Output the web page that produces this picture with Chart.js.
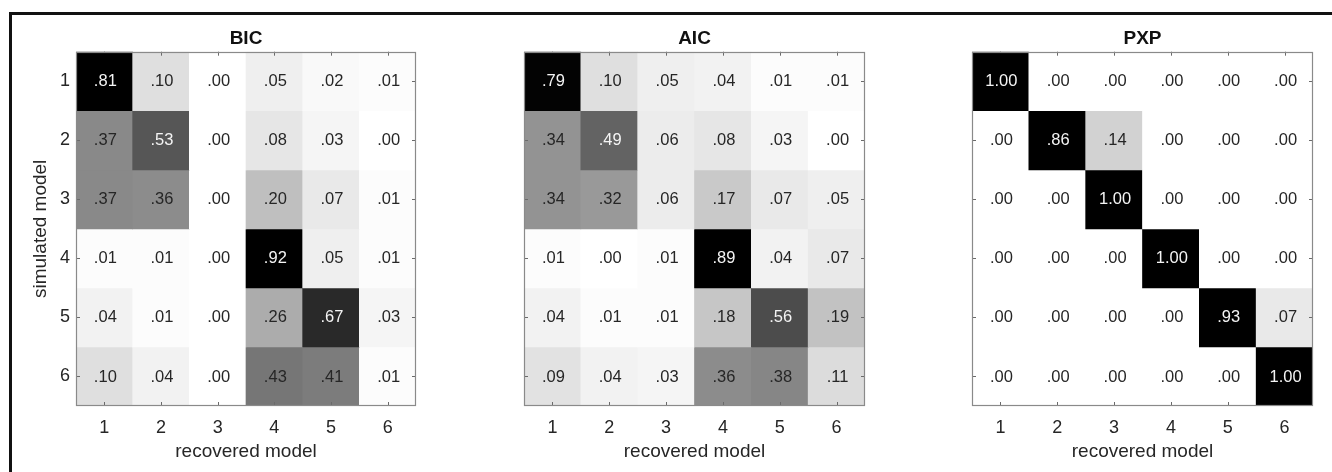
<!DOCTYPE html>
<html>
<head>
<meta charset="utf-8">
<script src="https://cdn.jsdelivr.net/npm/chart.js@4.4.1/dist/chart.umd.min.js"></script>
<style>
  html, body { margin: 0; padding: 0; background: #fff; }
  body { width: 1332px; height: 472px; position: relative; overflow: hidden; }
  .panel { position: absolute; top: 0; }
  .frame {
    position: absolute; left: 9px; top: 12px; width: 1400px; height: 500px;
    border-top: 3px solid #111; border-left: 3px solid #111; pointer-events: none; z-index: 5;
  }
</style>
</head>
<body>
<div class="frame"></div>
<canvas id="bic" class="panel"></canvas>
<canvas id="aic" class="panel"></canvas>
<canvas id="pxp" class="panel"></canvas>
<script>
// Model labels (shared by both axes)
const modelLabels = ['1', '2', '3', '4', '5', '6'];
const panelTitles = ['BIC', 'AIC', 'PXP'];
const xAxisTitle = 'recovered model';
const yAxisTitle = 'simulated model';

// Confusion matrices: rows = simulated model, columns = recovered model
const bicValues = [
  [0.81, 0.10, 0.00, 0.05, 0.02, 0.01],
  [0.37, 0.53, 0.00, 0.08, 0.03, 0.00],
  [0.37, 0.36, 0.00, 0.20, 0.07, 0.01],
  [0.01, 0.01, 0.00, 0.92, 0.05, 0.01],
  [0.04, 0.01, 0.00, 0.26, 0.67, 0.03],
  [0.10, 0.04, 0.00, 0.43, 0.41, 0.01]
];
const aicValues = [
  [0.79, 0.10, 0.05, 0.04, 0.01, 0.01],
  [0.34, 0.49, 0.06, 0.08, 0.03, 0.00],
  [0.34, 0.32, 0.06, 0.17, 0.07, 0.05],
  [0.01, 0.00, 0.01, 0.89, 0.04, 0.07],
  [0.04, 0.01, 0.01, 0.18, 0.56, 0.19],
  [0.09, 0.04, 0.03, 0.36, 0.38, 0.11]
];
const pxpValues = [
  [1.00, 0.00, 0.00, 0.00, 0.00, 0.00],
  [0.00, 0.86, 0.14, 0.00, 0.00, 0.00],
  [0.00, 0.00, 1.00, 0.00, 0.00, 0.00],
  [0.00, 0.00, 0.00, 1.00, 0.00, 0.00],
  [0.00, 0.00, 0.00, 0.00, 0.93, 0.07],
  [0.00, 0.00, 0.00, 0.00, 0.00, 1.00]
];

Chart.defaults.font.family = "'Liberation Sans', Arial, Helvetica, sans-serif";
Chart.defaults.color = '#262626';

const FONT = "'Liberation Sans', Arial, Helvetica, sans-serif";
const AXIS_W = 70;     // space left of each plot area (tick labels + axis title)
const RIGHT_PAD = 10;
const X_AXIS_H = 66;   // space under each plot area

// Inverted grey map, saturating at 0.8
function cellGrey(v) {
  const g = Math.round(255 * (1 - Math.min(v / 0.8, 1)));
  return `rgb(${g},${g},${g})`;
}
function cellText(v) {
  const s = v.toFixed(2);
  return v >= 1 ? s : s.replace(/^0/, '');
}

// Cell annotations, frame and inward ticks
const heatDecor = {
  id: 'heatDecor',
  afterDatasetsDraw(chart) {
    const { ctx, chartArea: a } = chart;
    const matrix = chart.options.plugins.heatDecor.matrix;
    ctx.save();
    ctx.font = `16.5px ${FONT}`;
    ctx.textAlign = 'center';
    ctx.textBaseline = 'middle';
    chart.data.datasets.forEach((ds, r) => {
      chart.getDatasetMeta(r).data.forEach((el, c) => {
        const v = matrix[r][c];
        ctx.fillStyle = v >= 0.45 ? '#f4f4f4' : '#262626';
        ctx.fillText(cellText(v), el.x + 1, (el.y + el.base) / 2 + 0.5);
      });
    });

    // tick marks pointing inward, blended so they vanish on dark cells
    const xs = chart.scales.x, ys = chart.scales.y;
    const tl = 4;
    ctx.globalCompositeOperation = 'darken';
    ctx.strokeStyle = '#6a6a6a';
    ctx.lineWidth = 1;
    ctx.beginPath();
    modelLabels.forEach((_, i) => {
      const px = Math.round(xs.getPixelForValue(i)) + 0.5;
      ctx.moveTo(px, a.top); ctx.lineTo(px, a.top + tl);
      ctx.moveTo(px, a.bottom); ctx.lineTo(px, a.bottom - tl);
      const py = Math.round(ys.getPixelForValue(i + 1)) + 0.5;
      ctx.moveTo(a.left, py); ctx.lineTo(a.left + tl, py);
      ctx.moveTo(a.right, py); ctx.lineTo(a.right - tl, py);
    });
    ctx.stroke();
    ctx.globalCompositeOperation = 'source-over';

    ctx.strokeStyle = '#8a8a8a';
    ctx.lineWidth = 1.2;
    ctx.strokeRect(Math.round(a.left) + 0.5, Math.round(a.top) + 0.5,
                   Math.round(a.right - a.left) - 1, Math.round(a.bottom - a.top) - 1);
    ctx.restore();
  }
};

function makePanel(id, title, matrix, plotLeft, plotWidth, showY) {
  const canvas = document.getElementById(id);
  const w = plotWidth + AXIS_W + RIGHT_PAD;
  canvas.width = w; canvas.height = 472;
  canvas.style.width = w + 'px'; canvas.style.height = '472px';
  canvas.style.left = (plotLeft - AXIS_W) + 'px';

  const datasets = matrix.map((row, r) => ({
    label: modelLabels[r],
    data: row.map(() => [r + 0.5, r + 1.5]),
    backgroundColor: row.map(cellGrey),
    borderWidth: 0,
    barPercentage: 1,
    categoryPercentage: 1,
    grouped: false
  }));

  return new Chart(canvas, {
    type: 'bar',
    data: { labels: modelLabels, datasets },
    plugins: [heatDecor],
    options: {
      responsive: false,
      animation: false,
      events: [],
      layout: { padding: { left: 0, right: RIGHT_PAD, top: 0, bottom: 0 } },
      plugins: {
        legend: { display: false },
        tooltip: { enabled: false },
        title: {
          display: true,
          text: title,
          fullSize: false,
          color: '#111',
          font: { size: 19, weight: 'bold' },
          padding: { top: 27.6, bottom: 1.3 }
        },
        heatDecor: { matrix }
      },
      scales: {
        x: {
          type: 'category',
          offset: true,
          grid: { display: false, drawTicks: false },
          border: { display: false },
          ticks: { font: { size: 18 }, padding: 11, color: '#262626' },
          title: {
            display: true, text: xAxisTitle,
            font: { size: 19 }, color: '#262626',
            padding: { top: 0, bottom: 8.9 }
          },
          afterFit(s) { s.height = X_AXIS_H; }
        },
        y: {
          type: 'linear',
          reverse: true,
          min: 0.5, max: 6.5,
          grid: { display: false, drawTicks: false },
          border: { display: false },
          afterBuildTicks(s) { s.ticks = modelLabels.map((_, i) => ({ value: i + 1 })); },
          ticks: {
            display: showY,
            font: { size: 18 }, padding: 6, color: '#262626',
            callback: (v, i) => modelLabels[i]
          },
          title: {
            display: showY, text: yAxisTitle,
            font: { size: 19 }, color: '#262626',
            padding: { top: 23.6, bottom: 0 }
          },
          afterFit(s) { s.width = AXIS_W; }
        }
      }
    }
  });
}

makePanel('bic', panelTitles[0], bicValues, 76, 340, true);
makePanel('aic', panelTitles[1], aicValues, 524, 341, false);
makePanel('pxp', panelTitles[2], pxpValues, 972, 341, false);
</script>
</body>
</html>
